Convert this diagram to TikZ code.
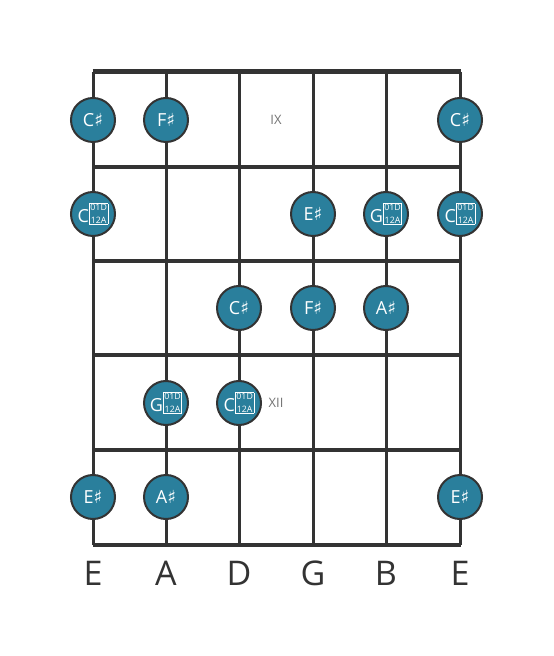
\documentclass[tikz,border=0pt]{standalone}
\usepackage{fontspec}
\setmainfont{Open Sans}
\newfontfamily\symfont{DejaVu Sans}
\usetikzlibrary{calc}
\definecolor{board}{HTML}{333333}
\definecolor{dotfill}{HTML}{2A7F9C}
\newcommand{\shp}{{\symfont\char"266F}}
\newcommand{\dshp}{{\setlength\fboxsep{0.3pt}\setlength\fboxrule{0.4pt}\raisebox{-0.3pt}{\fbox{\fontsize{4.4}{4.5}\selectfont\shortstack{01D\\12A}}}}}
\tikzset{
  fret/.style={draw=board,line width=2pt},
  string/.style={draw=board,line width=1.5pt},
  note/.style={circle,draw=board,line width=1pt,fill=dotfill,text=white,minimum size=22pt,inner sep=0pt,font=\fontsize{9}{9}\selectfont},
  fretno/.style={text=black!55,font=\fontsize{6.5}{7}\selectfont},
  strname/.style={text=board,font=\fontsize{17}{18}\selectfont}
}
\begin{document}
\begin{tikzpicture}[x=0.5pt,y=-0.5pt]
\useasboundingbox (0,0) rectangle (553,656);
% strings
\foreach \s/\x in {1/93,2/166,3/239,4/313,5/386,6/460}
  \draw[string] (\x,72) -- (\x,545);
% frets
\foreach \f/\y in {1/167,2/261,3/355,4/450,5/545}
  \draw[fret] (92.5,\y) -- (460.5,\y);
\draw[board,line width=2.5pt] (92.5,72) -- (460.5,72);
% notes
\node[note] (n11) at (93,120) {C\shp};
\node[note] (n12) at (166,120) {F\shp};
\node[note] (n16) at (460,120) {C\shp};
\node[fretno] (ix) at (276,120) {IX};
\node[note] (n21) at (93,214) {C\dshp};
\node[note] (n24) at (313,214) {E\shp};
\node[note] (n25) at (386,214) {G\dshp};
\node[note] (n26) at (460,214) {C\dshp};
\node[note] (n33) at (239,308) {C\shp};
\node[note] (n34) at (313,308) {F\shp};
\node[note] (n35) at (386,308) {A\shp};
\node[note] (n42) at (166,403) {G\dshp};
\node[note] (n43) at (239,403) {C\dshp};
\node[fretno] (xii) at (276,403) {XII};
\node[note] (n51) at (93,497) {E\shp};
\node[note] (n52) at (166,497) {A\shp};
\node[note] (n56) at (460,497) {E\shp};
% string names
\foreach \x/\t in {93/E,166/A,239/D,313/G,386/B,460/E}
  \node[strname] (l\x) at (\x,573) {\t};
\end{tikzpicture}
\end{document}
